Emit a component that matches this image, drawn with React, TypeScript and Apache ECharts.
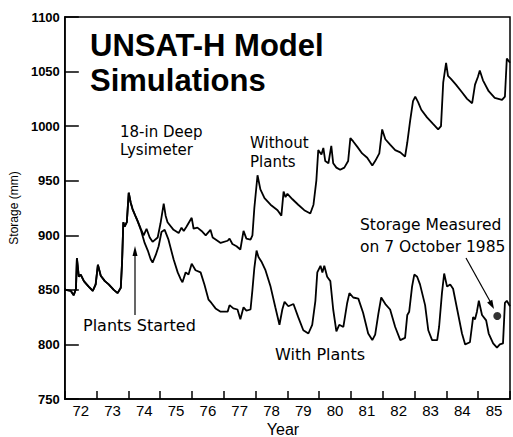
import React, { useEffect, useRef } from "react";
import * as echarts from "echarts";

// Shared trace before plants were started (both simulations identical)
const sharedYears = [1972.0, 1972.03, 1972.19, 1972.28, 1972.35, 1972.38, 1972.44, 1972.5, 1972.6, 1972.66, 1972.75, 1972.88, 1972.97, 1973.04, 1973.13, 1973.26, 1973.38, 1973.54, 1973.66, 1973.76, 1973.8, 1973.84, 1973.88, 1973.95, 1974.01, 1974.07, 1974.13, 1974.23, 1974.29];
const sharedValues = [851, 850, 849, 845, 851, 879, 862, 864, 858, 856, 853, 849, 855, 873, 863, 858, 855, 850, 847, 852, 875, 912, 908, 912, 939, 930, 924, 917, 913];

const withoutPlantsYears = [1974.39, 1974.48, 1974.57, 1974.67, 1974.76, 1974.92, 1975.01, 1975.11, 1975.17, 1975.23, 1975.42, 1975.58, 1975.67, 1975.74, 1975.83, 1975.99, 1976.05, 1976.17, 1976.3, 1976.43, 1976.58, 1976.65, 1976.8, 1976.9, 1977.12, 1977.18, 1977.27, 1977.4, 1977.52, 1977.62, 1977.71, 1977.84, 1977.9, 1977.96, 1978.06, 1978.15, 1978.28, 1978.47, 1978.69, 1978.81, 1978.88, 1978.94, 1979.0, 1979.16, 1979.34, 1979.53, 1979.72, 1979.82, 1979.91, 1979.97, 1980.07, 1980.13, 1980.19, 1980.29, 1980.38, 1980.44, 1980.54, 1980.66, 1980.79, 1980.91, 1980.98, 1981.07, 1981.2, 1981.35, 1981.51, 1981.67, 1981.76, 1981.89, 1981.98, 1982.08, 1982.23, 1982.39, 1982.55, 1982.7, 1982.77, 1982.86, 1982.95, 1983.02, 1983.11, 1983.21, 1983.39, 1983.58, 1983.74, 1983.83, 1983.9, 1983.99, 1984.05, 1984.15, 1984.3, 1984.49, 1984.65, 1984.81, 1984.9, 1984.99, 1985.05, 1985.15, 1985.33, 1985.52, 1985.75, 1985.84, 1985.9, 1986.0];
const withoutPlantsValues = [906, 900, 906, 898, 894, 898, 911, 929, 918, 912, 905, 902, 907, 904, 908, 916, 906, 907, 904, 900, 905, 898, 895, 893, 895, 897, 892, 890, 887, 904, 897, 896, 900, 925, 955, 942, 934, 928, 923, 918, 940, 935, 938, 933, 928, 923, 920, 928, 950, 978, 974, 980, 968, 966, 982, 966, 962, 960, 962, 968, 989, 986, 981, 975, 971, 964, 968, 975, 997, 988, 983, 978, 976, 972, 985, 1005, 1023, 1027, 1022, 1015, 1008, 1002, 997, 1000, 1040, 1058, 1046, 1043, 1038, 1031, 1025, 1021, 1038, 1045, 1051, 1042, 1032, 1026, 1024, 1027, 1062, 1058];

const withPlantsYears = [1974.39, 1974.51, 1974.61, 1974.7, 1974.76, 1974.86, 1974.95, 1975.04, 1975.14, 1975.26, 1975.42, 1975.55, 1975.64, 1975.7, 1975.8, 1975.89, 1975.99, 1976.11, 1976.27, 1976.39, 1976.52, 1976.61, 1976.74, 1976.9, 1977.12, 1977.18, 1977.3, 1977.43, 1977.52, 1977.62, 1977.71, 1977.84, 1977.9, 1977.96, 1978.03, 1978.09, 1978.18, 1978.31, 1978.47, 1978.62, 1978.75, 1978.84, 1978.91, 1979.03, 1979.19, 1979.34, 1979.5, 1979.66, 1979.78, 1979.88, 1979.94, 1980.04, 1980.1, 1980.16, 1980.25, 1980.35, 1980.44, 1980.54, 1980.63, 1980.76, 1980.88, 1980.95, 1981.07, 1981.23, 1981.38, 1981.54, 1981.67, 1981.76, 1981.86, 1981.95, 1982.08, 1982.23, 1982.39, 1982.55, 1982.7, 1982.77, 1982.83, 1982.92, 1982.99, 1983.08, 1983.17, 1983.33, 1983.43, 1983.55, 1983.71, 1983.77, 1983.86, 1983.93, 1984.02, 1984.12, 1984.21, 1984.34, 1984.49, 1984.59, 1984.74, 1984.84, 1984.9, 1984.96, 1985.02, 1985.12, 1985.25, 1985.33, 1985.47, 1985.59, 1985.68, 1985.78, 1985.84, 1985.9, 1986.0];
const withPlantsValues = [905, 893, 886, 878, 875, 882, 890, 903, 905, 896, 878, 866, 860, 857, 866, 864, 874, 868, 866, 855, 841, 838, 833, 830, 830, 836, 833, 832, 823, 834, 831, 832, 850, 870, 886, 880, 876, 868, 853, 834, 818, 832, 839, 835, 837, 825, 813, 810, 818, 840, 866, 872, 866, 872, 862, 858, 832, 812, 818, 816, 838, 847, 843, 842, 829, 810, 804, 809, 828, 843, 837, 832, 816, 804, 806, 827, 830, 853, 864, 862, 855, 836, 813, 804, 804, 816, 847, 865, 853, 855, 851, 832, 810, 800, 802, 825, 823, 830, 840, 827, 822, 810, 801, 797, 800, 801, 838, 840, 835];

const measuredYear = [1985.6];
const measuredValue = [826];

const yearLabels = ["72", "73", "74", "75", "76", "77", "78", "79", "80", "81", "82", "83", "84", "85"];

const pairs = (xs: number[], ys: number[]) => xs.map((x, i) => [x, ys[i]]);

const LABEL_FONT = "DejaVu Sans, sans-serif";
const AXIS_FONT = "Liberation Sans, Arial, sans-serif";

export default function App() {
  const ref = useRef<HTMLDivElement>(null);
  useEffect(() => {
    document.body.style.margin = "0";
    if (!ref.current) return;
    const chart = echarts.init(ref.current, undefined, { renderer: "svg" });
    const txt = (x: number, y: number, text: string, size = 16, extra: any = {}) => ({
      type: "text",
      x,
      y,
      style: { text, fontSize: size, fontFamily: LABEL_FONT, fill: "#000", verticalAlign: "middle", align: "left", ...extra },
    });
    const axisLineStyle = { color: "#000", width: 1.5 };
    chart.setOption({
      animation: false,
      backgroundColor: "#fff",
      grid: { left: 64, right: 3, top: 17, bottom: 38, show: true, borderColor: "#000", borderWidth: 1.5 },
      xAxis: [
        {
          type: "value",
          min: 1972,
          max: 1986,
          interval: 1,
          axisLine: { show: false },
          axisTick: { show: false },
          axisLabel: { show: false },
          splitLine: { show: false },
        },
        {
          type: "category",
          data: yearLabels,
          position: "bottom",
          boundaryGap: true,
          axisLine: { show: true, lineStyle: axisLineStyle },
          axisTick: { show: true, inside: true, length: 8, lineStyle: axisLineStyle },
          axisLabel: { fontSize: 15, color: "#000", margin: 4, fontFamily: AXIS_FONT },
          splitLine: { show: false },
        },
      ],
      yAxis: {
        type: "value",
        min: 750,
        max: 1100,
        interval: 50,
        name: "Storage (mm)",
        nameLocation: "middle",
        nameGap: 44,
        nameTextStyle: { fontSize: 12, color: "#000", fontFamily: AXIS_FONT },
        axisLine: { show: true, lineStyle: axisLineStyle },
        axisTick: { show: true, inside: true, length: 14, lineStyle: axisLineStyle },
        axisLabel: {
          fontSize: 13,
          fontWeight: "bold",
          color: "#000",
          margin: 5,
          fontFamily: AXIS_FONT,
          formatter: (v: number) => String(v),
        },
        splitLine: { show: false },
      },
      series: [
        {
          name: "Without Plants",
          type: "line",
          xAxisIndex: 0,
          data: pairs([...sharedYears, ...withoutPlantsYears], [...sharedValues, ...withoutPlantsValues]),
          showSymbol: false,
          lineStyle: { color: "#000", width: 1.8 },
          z: 3,
        },
        {
          name: "With Plants",
          type: "line",
          xAxisIndex: 0,
          data: pairs([...sharedYears, ...withPlantsYears], [...sharedValues, ...withPlantsValues]),
          showSymbol: false,
          lineStyle: { color: "#000", width: 1.8 },
          z: 3,
        },
        {
          name: "Measured",
          type: "scatter",
          xAxisIndex: 0,
          data: pairs(measuredYear, measuredValue),
          symbolSize: 8,
          itemStyle: { color: "#000" },
          z: 4,
        },
      ],
      graphic: [
        { type: "text", x: 90, y: 45, style: { text: "UNSAT-H Model", fontSize: 31, fontWeight: "bold", fontFamily: AXIS_FONT, fill: "#000", verticalAlign: "middle" } },
        { type: "text", x: 90, y: 80, style: { text: "Simulations", fontSize: 31, fontWeight: "bold", fontFamily: AXIS_FONT, fill: "#000", verticalAlign: "middle" } },
        txt(120, 132, "18-in Deep", 15),
        txt(120, 150, "Lysimeter", 15),
        txt(250, 143, "Without", 15),
        txt(250, 162, "Plants", 15),
        txt(83, 325, "Plants Started", 16),
        txt(275, 354, "With Plants", 16),
        txt(360, 225, "Storage Measured", 15.5),
        txt(360, 247, "on 7 October 1985", 15.5),
        txt(283, 429, "Year", 16, { align: "center", fontFamily: AXIS_FONT }),
        { type: "line", shape: { x1: 135, y1: 315, x2: 135, y2: 252 }, style: { stroke: "#000", lineWidth: 1.2 } },
        { type: "polygon", shape: { points: [[135, 246], [132.5, 256], [137.5, 256]] }, style: { fill: "#000" } },
        { type: "line", shape: { x1: 466, y1: 258, x2: 491, y2: 303 }, style: { stroke: "#000", lineWidth: 1.2 } },
        { type: "polygon", shape: { points: [[494, 309], [492.3, 299.7], [487.1, 302.5]] }, style: { fill: "#000" } },
      ],
    });
    return () => chart.dispose();
  }, []);
  return <div ref={ref} style={{ position: "absolute", left: 0, top: 0, width: 513, height: 437 }} />;
}
